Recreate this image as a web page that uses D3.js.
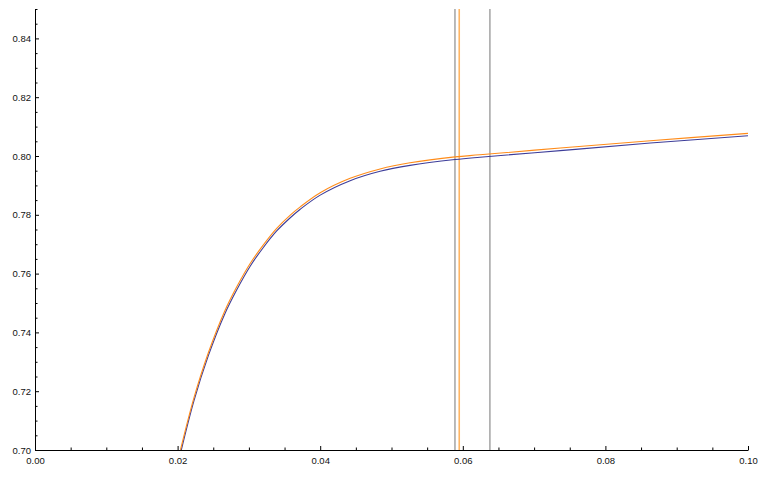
<!DOCTYPE html>
<html>
<head>
<meta charset="utf-8">
<script src="https://cdn.jsdelivr.net/npm/d3@7"></script>
<style>
  html, body { margin: 0; padding: 0; background: #fff; }
  svg { display: block; font-family: "Liberation Sans", Arial, sans-serif; }
  .tick text { fill: #111; font-size: 9.5px; }
</style>
</head>
<body>
<div id="chart"></div>
<script>
/* ---------- data ---------- */
const xSamples = [0.0204, 0.0223, 0.0243, 0.0266, 0.0283, 0.0302, 0.0320, 0.0339, 0.0358, 0.0372, 0.0400, 0.0442, 0.0484, 0.0526, 0.0589, 0.0624, 0.0741, 0.0863, 0.1000];
const orangeValues = [0.7000, 0.7178, 0.7330, 0.7472, 0.7555, 0.7635, 0.7697, 0.7754, 0.7799, 0.7827, 0.7875, 0.7924, 0.7956, 0.7977, 0.7997, 0.8004, 0.8028, 0.8052, 0.8077];
const blueValues = [0.6988, 0.7168, 0.7320, 0.7462, 0.7545, 0.7626, 0.7688, 0.7745, 0.7790, 0.7819, 0.7867, 0.7916, 0.7948, 0.7968, 0.7988, 0.7996, 0.8019, 0.8044, 0.8069];
const grayMarkers = [0.0589, 0.0638];
const orangeMarkers = [0.0595];
const xMajorTicks = [0, 0.02, 0.04, 0.06, 0.08, 0.10];
const yMajorTicks = [0.70, 0.72, 0.74, 0.76, 0.78, 0.80, 0.82, 0.84];
const xDomain = [0, 0.10];
const yDomain = [0.70, 0.85];

(function () {
  const W = 765, H = 479;
  const margin = { left: 35, right: 17, top: 9, bottom: 29 };

  const x = d3.scaleLinear().domain(xDomain).range([margin.left, W - margin.right]);
  const y = d3.scaleLinear().domain(yDomain).range([H - margin.bottom, margin.top]);

  const svg = d3.select('#chart').append('svg')
    .attr('width', W)
    .attr('height', H)
    .attr('viewBox', `0 0 ${W} ${H}`);

  svg.append('defs').append('clipPath').attr('id', 'plotClip')
    .append('rect')
    .attr('x', x(xDomain[0])).attr('y', y(yDomain[1]))
    .attr('width', x(xDomain[1]) - x(xDomain[0]))
    .attr('height', y(yDomain[0]) - y(yDomain[1]));

  const fmt = d3.format('.2f');
  const minorX = d3.range(0, 20 + 1).map(i => i * 0.005).filter(v => !xMajorTicks.some(m => Math.abs(m - v) < 1e-9));
  const minorY = d3.range(0, 30 + 1).map(i => 0.70 + i * 0.005).filter(v => !yMajorTicks.some(m => Math.abs(m - v) < 1e-9));

  // vertical marker lines
  const plot = svg.append('g').attr('clip-path', 'url(#plotClip)');
  plot.selectAll('line.gray-marker').data(grayMarkers).join('line')
    .attr('class', 'gray-marker')
    .attr('x1', d => x(d)).attr('x2', d => x(d))
    .attr('y1', y(yDomain[0])).attr('y2', y(yDomain[1]))
    .attr('stroke', '#a9a9a9').attr('stroke-width', 1.6);
  plot.selectAll('line.orange-marker').data(orangeMarkers).join('line')
    .attr('class', 'orange-marker')
    .attr('x1', d => x(d)).attr('x2', d => x(d))
    .attr('y1', y(yDomain[0])).attr('y2', y(yDomain[1]))
    .attr('stroke', '#ffb563').attr('stroke-width', 1.6);

  // curves
  const line = d3.line().curve(d3.curveCatmullRom.alpha(0.5));
  plot.append('path')
    .datum(xSamples.map((v, i) => [x(v), y(blueValues[i])]))
    .attr('d', line)
    .attr('fill', 'none').attr('stroke', '#3d3d99').attr('stroke-width', 1.1);
  plot.append('path')
    .datum(xSamples.map((v, i) => [x(v), y(orangeValues[i])]))
    .attr('d', line)
    .attr('fill', 'none').attr('stroke', '#ff8c1a').attr('stroke-width', 1.1);

  // axes
  svg.append('g').attr('transform', `translate(0,${y(yDomain[0])})`)
    .call(d3.axisBottom(x).tickValues(xMajorTicks).tickFormat(fmt).tickSize(-4).tickSizeOuter(0).tickPadding(7));
  svg.append('g').attr('transform', `translate(0,${y(yDomain[0])})`)
    .call(d3.axisBottom(x).tickValues(minorX).tickFormat('').tickSize(-2.5).tickSizeOuter(0))
    .select('.domain').remove();

  svg.append('g').attr('transform', `translate(${x(xDomain[0])},0)`)
    .call(d3.axisLeft(y).tickValues(yMajorTicks).tickFormat(fmt).tickSize(-4).tickSizeOuter(0).tickPadding(4));
  svg.append('g').attr('transform', `translate(${x(xDomain[0])},0)`)
    .call(d3.axisLeft(y).tickValues(minorY).tickFormat('').tickSize(-2.5).tickSizeOuter(0))
    .select('.domain').remove();

  svg.selectAll('.domain, .tick line').attr('stroke', '#000').attr('stroke-width', 1);
  svg.selectAll('.tick text').attr('font-size', null);
})();
</script>
</body>
</html>
